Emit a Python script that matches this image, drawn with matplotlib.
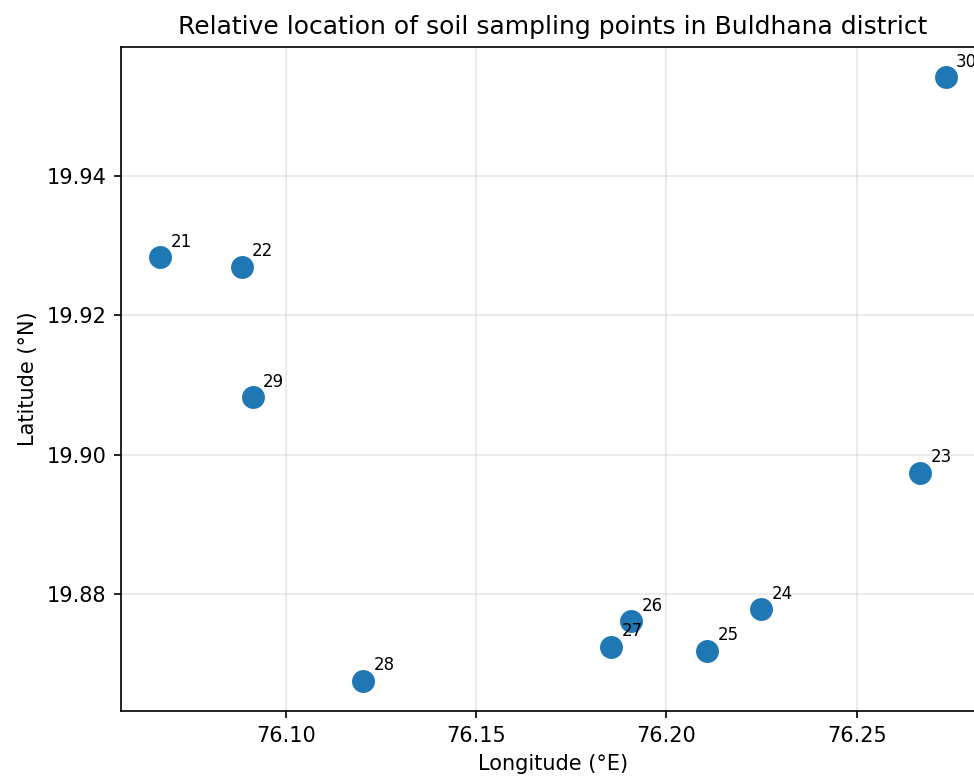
import matplotlib
matplotlib.use("Agg")
import matplotlib.pyplot as plt

labels = ["21", "22", "23", "24", "25", "26", "27", "28", "29", "30"]
lon = [76.0670, 76.0884, 76.2666, 76.2249, 76.2107, 76.1907, 76.1854, 76.1203, 76.0913, 76.2734]
lat = [19.9283, 19.9270, 19.8974, 19.8778, 19.8718, 19.8761, 19.8724, 19.8675, 19.9082, 19.9542]

fig = plt.figure(figsize=(974 / 150, 779 / 150), dpi=150)
ax = fig.add_axes([0.1242, 0.0873, 1.0113 - 0.1242, 0.9397 - 0.0873])
ax.scatter(lon, lat, s=100, color="#1f77b4", zorder=3)
for lb, x, y in zip(labels, lon, lat):
    ax.annotate(lb, (x, y), xytext=(5, 5), textcoords="offset points", fontsize=8)
ax.set_title("Relative location of soil sampling points in Buldhana district")
ax.set_xlabel("Longitude (°E)")
ax.set_ylabel("Latitude (°N)")
ax.grid(True, alpha=0.3)
ax.set_xticks([76.10, 76.15, 76.20, 76.25])
ax.set_yticks([19.88, 19.90, 19.92, 19.94])
fig.savefig("out.png", dpi=150)
